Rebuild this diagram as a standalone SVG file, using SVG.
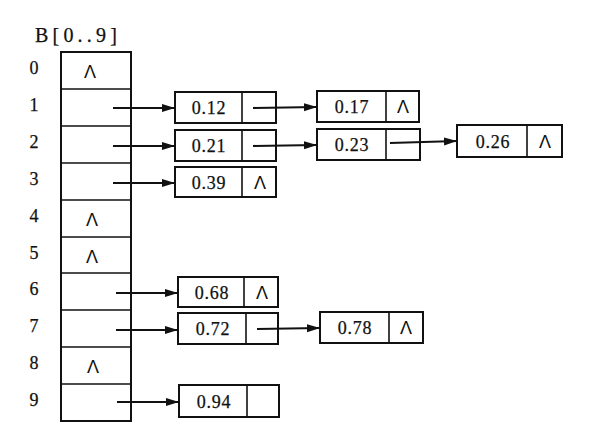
<svg xmlns="http://www.w3.org/2000/svg" width="599" height="439" viewBox="0 0 599 439">
<style>
.box{fill:#fff;stroke:#111;stroke-width:2}
.div{stroke:#111;stroke-width:1.6}
.t{font-family:"Liberation Serif",serif;font-size:18px;fill:#111;stroke:#111;stroke-width:0.25;text-anchor:middle;letter-spacing:0.8px}
.idx{font-family:"Liberation Serif",serif;font-size:18px;fill:#111;stroke:#111;stroke-width:0.25;text-anchor:middle}
.nil{font-family:"Liberation Sans",sans-serif;font-size:18px;fill:#111;text-anchor:middle}
.arr{stroke:#111;stroke-width:2.2;fill:none;marker-end:url(#ah)}
</style>
<defs>
<marker id="ah" markerUnits="userSpaceOnUse" markerWidth="14" markerHeight="10" refX="13" refY="5" orient="auto">
<path d="M0,1 L13,5 L0,9 z" fill="#111"/>
</marker>
</defs>
<rect width="599" height="439" fill="#fff"/>
<text x="35" y="42" font-family="Liberation Serif, serif" font-size="20" fill="#111" stroke="#111" stroke-width="0.25" letter-spacing="4.2">B[0..9]</text>
<g id="array">
<rect class="box" x="61" y="52" width="70" height="369"/>
<line class="div" x1="61" y1="89" x2="131" y2="89"/>
<line class="div" x1="61" y1="126" x2="131" y2="126"/>
<line class="div" x1="61" y1="163" x2="131" y2="163"/>
<line class="div" x1="61" y1="200" x2="131" y2="200"/>
<line class="div" x1="61" y1="237" x2="131" y2="237"/>
<line class="div" x1="61" y1="273" x2="131" y2="273"/>
<line class="div" x1="61" y1="310" x2="131" y2="310"/>
<line class="div" x1="61" y1="347" x2="131" y2="347"/>
<line class="div" x1="61" y1="384" x2="131" y2="384"/>
<text class="nil" x="90" y="78">Λ</text>
<text class="nil" x="92" y="226">Λ</text>
<text class="nil" x="92" y="263">Λ</text>
<text class="nil" x="93" y="373">Λ</text>
<text class="idx" x="34" y="74">0</text>
<text class="idx" x="34" y="111">1</text>
<text class="idx" x="34" y="148">2</text>
<text class="idx" x="34" y="185">3</text>
<text class="idx" x="34" y="222">4</text>
<text class="idx" x="34" y="259">5</text>
<text class="idx" x="34" y="295">6</text>
<text class="idx" x="34" y="332">7</text>
<text class="idx" x="34" y="369">8</text>
<text class="idx" x="34" y="406">9</text>
</g>
<g id="n12"><rect class="box" x="175" y="92" width="101" height="31"/><line class="div" x1="242" y1="92" x2="242" y2="123"/><text class="t" x="209" y="114">0.12</text></g>
<g id="n21"><rect class="box" x="175" y="130" width="101" height="31"/><line class="div" x1="242" y1="130" x2="242" y2="161"/><text class="t" x="209" y="152">0.21</text></g>
<g id="n39"><rect class="box" x="175" y="167" width="101" height="30"/><line class="div" x1="242" y1="167" x2="242" y2="197"/><text class="t" x="209" y="189">0.39</text><text class="nil" x="260" y="189">Λ</text></g>
<g id="n17"><rect class="box" x="317" y="91" width="102" height="31"/><line class="div" x1="386" y1="91" x2="386" y2="122"/><text class="t" x="352" y="113">0.17</text><text class="nil" x="403" y="113">Λ</text></g>
<g id="n23"><rect class="box" x="317" y="129" width="103" height="31"/><line class="div" x1="386" y1="129" x2="386" y2="160"/><text class="t" x="352" y="151">0.23</text></g>
<g id="n26"><rect class="box" x="457" y="125" width="105" height="32"/><line class="div" x1="527" y1="125" x2="527" y2="157"/><text class="t" x="493" y="148">0.26</text><text class="nil" x="545" y="148">Λ</text></g>
<g id="n68"><rect class="box" x="178" y="277" width="100" height="30"/><line class="div" x1="244" y1="277" x2="244" y2="307"/><text class="t" x="212" y="299">0.68</text><text class="nil" x="262" y="299">Λ</text></g>
<g id="n72"><rect class="box" x="178" y="313" width="100" height="31"/><line class="div" x1="246" y1="313" x2="246" y2="344"/><text class="t" x="213" y="335">0.72</text></g>
<g id="n78"><rect class="box" x="320" y="312" width="103" height="31"/><line class="div" x1="389" y1="312" x2="389" y2="343"/><text class="t" x="355" y="334">0.78</text><text class="nil" x="406" y="334">Λ</text></g>
<g id="n94"><rect class="box" x="179" y="385" width="100" height="32"/><line class="div" x1="247" y1="385" x2="247" y2="417"/><text class="t" x="214" y="408">0.94</text></g>
<g id="connectors">
<line class="arr" x1="113" y1="108" x2="175" y2="108"/>
<line class="arr" x1="113" y1="146" x2="175" y2="146"/>
<line class="arr" x1="113" y1="183" x2="175" y2="183"/>
<line class="arr" x1="116" y1="293" x2="178" y2="293"/>
<line class="arr" x1="116" y1="330" x2="178" y2="330"/>
<line class="arr" x1="117" y1="402" x2="179" y2="402"/>
<line class="arr" x1="253" y1="108" x2="317" y2="107"/>
<line class="arr" x1="253" y1="146" x2="317" y2="145"/>
<line class="arr" x1="390" y1="143" x2="457" y2="141"/>
<line class="arr" x1="257" y1="329" x2="320" y2="328"/>
</g>
</svg>
